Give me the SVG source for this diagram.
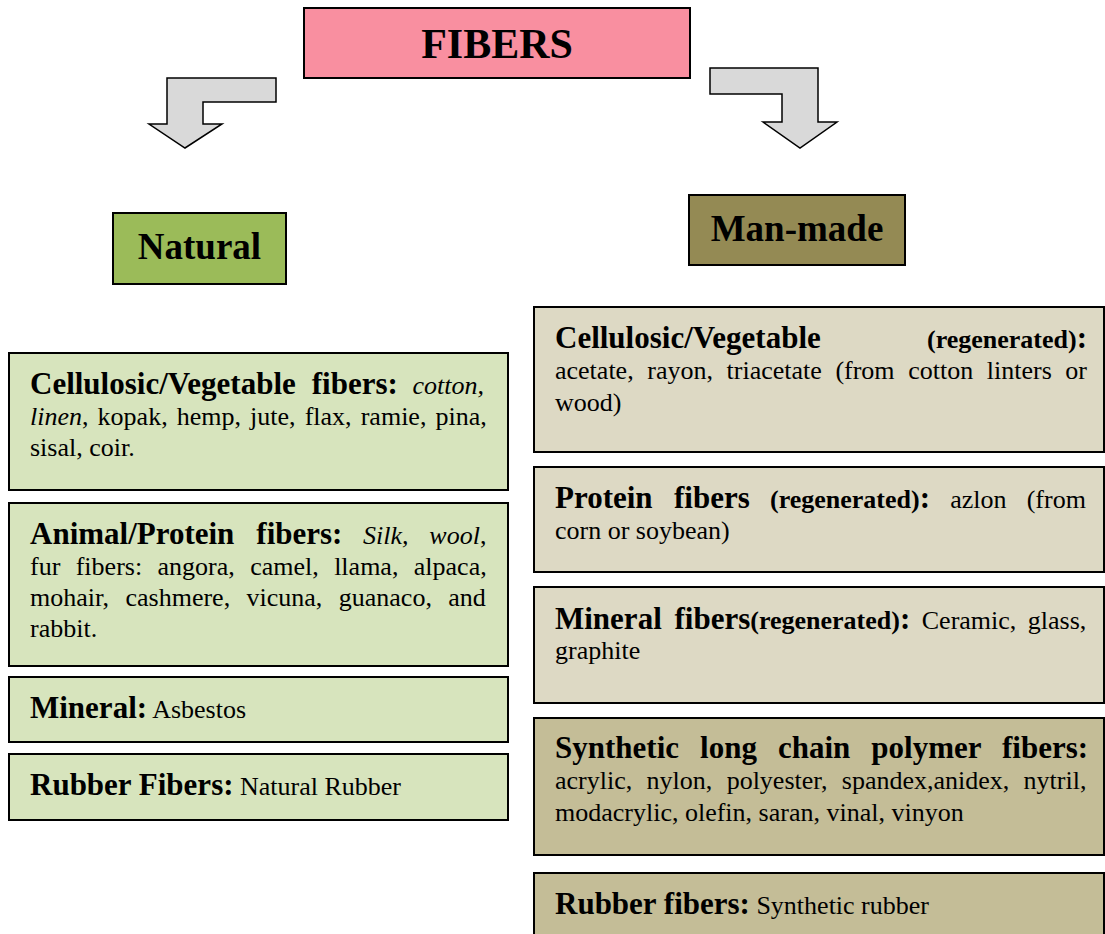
<svg xmlns="http://www.w3.org/2000/svg" width="1105" height="934" viewBox="0 0 1105 934">
  <style>
    text { font-family: "Liberation Serif", "Times New Roman", serif; fill: #000; }
    .box { stroke: #000; stroke-width: 2; }
    .title { font-weight: bold; font-size: 42px; text-anchor: middle; }
    .cat { font-weight: bold; font-size: 37px; text-anchor: middle; }
    .t { font-size: 26px; }
    .b { font-weight: bold; font-size: 31px; }
    .bs { font-weight: bold; font-size: 26px; }
    .i { font-style: italic; }
    .nat { fill: #D7E4BD; }
    .reg { fill: #DDD9C4; }
    .syn { fill: #C4BD97; }
    .arrow { fill: #D9D9D9; stroke: #000; stroke-width: 1.5; stroke-linejoin: miter; }
  </style>

  <!-- bent block arrows from the root to the two branches -->
  <g id="connectors">
    <polygon class="arrow" points="276,78 167,78 167,124 149,124 185,148 222,124 203,124 203,102 276,102"/>
    <polygon class="arrow" points="710,68 818,68 818,122 837,122 800,148 763,122 782,122 782,94 710,94"/>
  </g>

  <g id="fibers">
    <rect class="box" x="304" y="8" width="386" height="70" fill="#F98FA0"/>
    <text class="title" x="497" y="58">FIBERS</text>
  </g>

  <g id="natural">
    <rect class="box" x="113" y="213" width="173" height="71" fill="#9BBB59"/>
    <text class="cat" x="199.5" y="259">Natural</text>
  </g>

  <g id="man-made">
    <rect class="box" x="689" y="195" width="216" height="70" fill="#948A54"/>
    <text class="cat" x="797" y="241">Man-made</text>
  </g>

  <!-- natural fiber groups -->
  <g id="nat-cellulosic">
    <rect class="box nat" x="9" y="353" width="499" height="137"/>
    <text class="t" x="30" y="394" word-spacing="8.2"><tspan class="b">Cellulosic/Vegetable fibers:</tspan> <tspan class="i">cotton,</tspan></text>
    <text class="t" x="30" y="425" word-spacing="2.6"><tspan class="i">linen</tspan>, kopak, hemp, jute, flax, ramie, pina,</text>
    <text class="t" x="30" y="456">sisal, coir.</text>
  </g>

  <g id="nat-protein">
    <rect class="box nat" x="9" y="503" width="499" height="163"/>
    <text class="t" x="30" y="544" word-spacing="14.2"><tspan class="b">Animal/Protein fibers:</tspan> <tspan class="i">Silk, wool</tspan>,</text>
    <text class="t" x="30" y="575" word-spacing="8.9">fur fibers: angora, camel, llama, alpaca,</text>
    <text class="t" x="30" y="606" word-spacing="9.9">mohair, cashmere, vicuna, guanaco, and</text>
    <text class="t" x="30" y="637">rabbit.</text>
  </g>

  <g id="nat-mineral">
    <rect class="box nat" x="9" y="677" width="499" height="65"/>
    <text class="t" x="30" y="718"><tspan class="b">Mineral:</tspan> Asbestos</text>
  </g>

  <g id="nat-rubber">
    <rect class="box nat" x="9" y="754" width="499" height="66"/>
    <text class="t" x="30" y="795"><tspan class="b">Rubber Fibers:</tspan> Natural Rubber</text>
  </g>

  <!-- man-made fiber groups -->
  <g id="mm-cellulosic">
    <rect class="box reg" x="534" y="307" width="570" height="145"/>
    <text class="b" x="555" y="348">Cellulosic/Vegetable</text>
    <text class="b" x="1087" y="348" text-anchor="end"><tspan class="bs">(regenerated)</tspan>:</text>
    <text class="t" x="555" y="379" word-spacing="7.1">acetate, rayon, triacetate (from cotton linters or</text>
    <text class="t" x="555" y="411">wood)</text>
  </g>

  <g id="mm-protein">
    <rect class="box reg" x="534" y="467" width="570" height="105"/>
    <text class="t" x="555" y="508" word-spacing="13.7"><tspan class="b">Protein fibers</tspan><tspan class="bs"> (regenerated)</tspan><tspan class="b">:</tspan> azlon (from</text>
    <text class="t" x="555" y="539">corn or soybean)</text>
  </g>

  <g id="mm-mineral">
    <rect class="box reg" x="534" y="587" width="570" height="116"/>
    <text class="t" x="555" y="629" word-spacing="5"><tspan class="b">Mineral fibers</tspan><tspan class="bs">(regenerated)</tspan><tspan class="b">:</tspan> Ceramic, glass,</text>
    <text class="t" x="555" y="659">graphite</text>
  </g>

  <g id="mm-synthetic">
    <rect class="box syn" x="534" y="718" width="570" height="137"/>
    <text class="b" x="555" y="758" word-spacing="13.3">Synthetic long chain polymer fibers:</text>
    <text class="t" x="555" y="789" word-spacing="7.85">acrylic, nylon, polyester, spandex,anidex, nytril,</text>
    <text class="t" x="555" y="821">modacrylic, olefin, saran, vinal, vinyon</text>
  </g>

  <g id="mm-rubber">
    <rect class="box syn" x="534" y="873" width="570" height="70"/>
    <text class="t" x="555" y="914"><tspan class="b">Rubber fibers:</tspan> Synthetic rubber</text>
  </g>
</svg>
